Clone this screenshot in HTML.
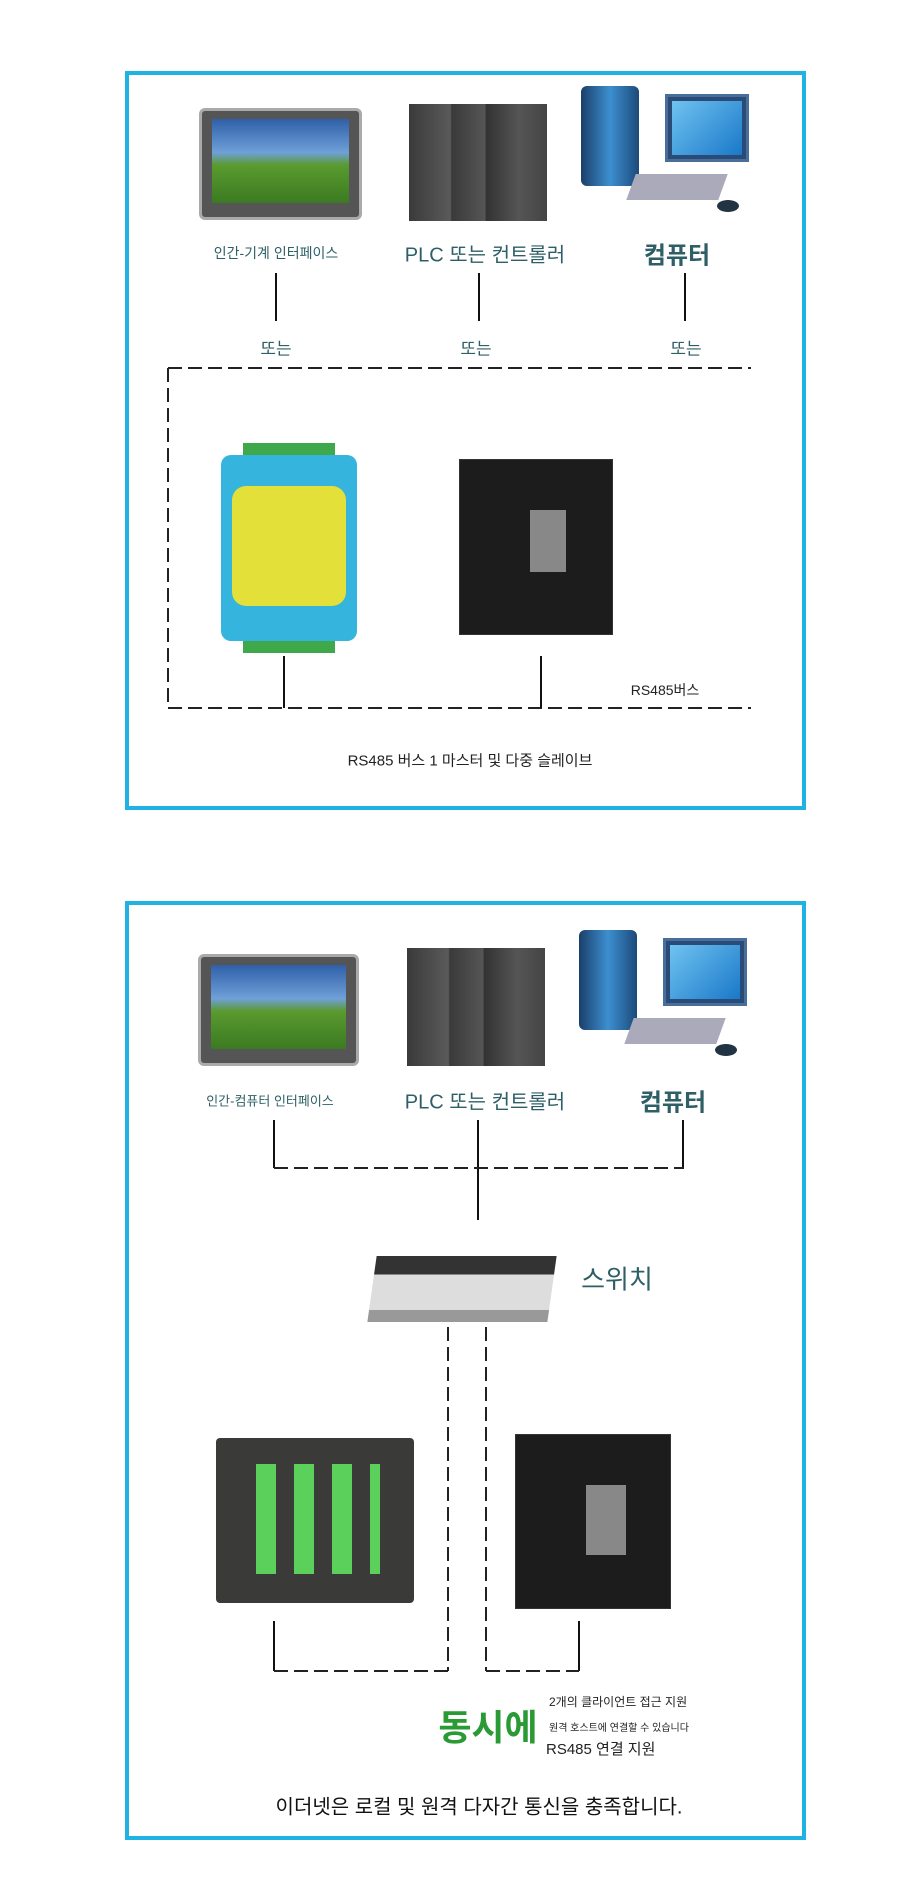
<!DOCTYPE html>
<html><head><meta charset="utf-8"><style>
*{margin:0;padding:0;box-sizing:border-box}
body{width:920px;height:1887px;background:#fff;position:relative;font-family:"Liberation Sans","Noto Sans CJK KR",sans-serif;overflow:hidden}
.a{position:absolute}
.box{position:absolute;border:4px solid #1fb2e3}
.t{position:absolute;white-space:nowrap;transform:translate(-50%,-50%);color:#2e5f66}
.vl{position:absolute;width:2px;background:#111}
.hd{position:absolute;height:2px;background:repeating-linear-gradient(90deg,#222 0 14px,transparent 14px 20px)}
.vd{position:absolute;width:2px;background:repeating-linear-gradient(180deg,#222 0 14px,transparent 14px 20px)}
.hmi{position:absolute;background:#555;border-radius:6px;border:3px solid #aaa}
.hmi .s{position:absolute;left:10px;right:10px;top:8px;bottom:14px;background:linear-gradient(#2f5fa8 0,#6fa0d8 40%,#5a9a2e 55%,#3c7a22 100%)}
.plc{position:absolute;background:linear-gradient(90deg,#3a3a3a,#5a5a5a 30%,#3a3a3a 31%,#555 55%,#333 56%,#555 80%,#444)}
.pc{position:absolute}
.blk{position:absolute;background:#1c1c1c;border:1px solid #333}
</style></head><body>

<div class="box" style="left:125px;top:71px;width:681px;height:739px"></div>
<div class="box" style="left:125px;top:901px;width:681px;height:939px"></div>

<!-- box1 devices -->
<div class="hmi" style="left:199px;top:108px;width:163px;height:112px"><div class="s"></div></div>
<div class="plc" style="left:409px;top:104px;width:138px;height:117px"></div>
<div class="pc" style="left:581px;top:78px;width:171px;height:144px">
 <div class="a" style="left:0;top:8px;width:58px;height:100px;background:linear-gradient(90deg,#1a3f6a,#3d8fd0,#1c4a7a);border-radius:6px"></div>
 <div class="a" style="left:84px;top:16px;width:84px;height:68px;background:#2a4a78;border:3px solid #4a6e9a"><div class="a" style="left:4px;top:4px;right:4px;bottom:4px;background:linear-gradient(135deg,#6fc3f0,#1a78c8)"></div></div>
 <div class="a" style="left:50px;top:96px;width:92px;height:26px;background:#aab;transform:skewX(-20deg)"></div>
 <div class="a" style="left:136px;top:122px;width:22px;height:12px;background:#234;border-radius:50%"></div>
</div>
<div class="t" style="left:276px;top:253px;font-size:14px">인간-기계 인터페이스</div>
<div class="t" style="left:485px;top:253px;font-size:20px">PLC 또는 컨트롤러</div>
<div class="t" style="left:677px;top:253px;font-size:24px;font-weight:bold">컴퓨터</div>
<div class="vl" style="left:275px;top:273px;height:48px"></div>
<div class="vl" style="left:478px;top:273px;height:48px"></div>
<div class="vl" style="left:684px;top:273px;height:48px"></div>
<div class="t" style="left:276px;top:347px;font-size:17px">또는</div>
<div class="t" style="left:476px;top:347px;font-size:17px">또는</div>
<div class="t" style="left:686px;top:347px;font-size:17px">또는</div>
<div class="hd" style="left:168px;top:367px;width:583px"></div>
<div class="vd" style="left:167px;top:368px;height:340px"></div>
<div class="hd" style="left:168px;top:707px;width:583px"></div>
<!-- yellow module -->
<div class="a" style="left:243px;top:443px;width:92px;height:12px;background:#3fa84a"></div>
<div class="a" style="left:221px;top:455px;width:136px;height:186px;background:#35b4de;border-radius:10px"></div>
<div class="a" style="left:232px;top:486px;width:114px;height:120px;background:#e4e03a;border-radius:14px"></div>
<div class="a" style="left:243px;top:641px;width:92px;height:12px;background:#3fa84a"></div>
<!-- black device -->
<div class="blk" style="left:459px;top:459px;width:154px;height:176px"><div class="a" style="left:70px;top:50px;width:36px;height:62px;background:#888"></div></div>
<div class="vl" style="left:283px;top:656px;height:52px"></div>
<div class="vl" style="left:540px;top:656px;height:52px"></div>
<div class="t" style="left:665px;top:690px;font-size:14px;color:#222">RS485버스</div>
<div class="t" style="left:470px;top:760px;font-size:15px;color:#222">RS485 버스 1 마스터 및 다중 슬레이브</div>

<!-- box2 devices -->
<div class="hmi" style="left:198px;top:954px;width:161px;height:112px"><div class="s"></div></div>
<div class="plc" style="left:407px;top:948px;width:138px;height:118px"></div>
<div class="pc" style="left:579px;top:922px;width:171px;height:144px">
 <div class="a" style="left:0;top:8px;width:58px;height:100px;background:linear-gradient(90deg,#1a3f6a,#3d8fd0,#1c4a7a);border-radius:6px"></div>
 <div class="a" style="left:84px;top:16px;width:84px;height:68px;background:#2a4a78;border:3px solid #4a6e9a"><div class="a" style="left:4px;top:4px;right:4px;bottom:4px;background:linear-gradient(135deg,#6fc3f0,#1a78c8)"></div></div>
 <div class="a" style="left:50px;top:96px;width:92px;height:26px;background:#aab;transform:skewX(-20deg)"></div>
 <div class="a" style="left:136px;top:122px;width:22px;height:12px;background:#234;border-radius:50%"></div>
</div>
<div class="t" style="left:270px;top:1100px;font-size:13px">인간-컴퓨터 인터페이스</div>
<div class="t" style="left:485px;top:1100px;font-size:20px">PLC 또는 컨트롤러</div>
<div class="t" style="left:673px;top:1100px;font-size:24px;font-weight:bold">컴퓨터</div>
<div class="vl" style="left:273px;top:1120px;height:48px"></div>
<div class="vl" style="left:477px;top:1120px;height:100px"></div>
<div class="vl" style="left:682px;top:1120px;height:48px"></div>
<div class="hd" style="left:274px;top:1167px;width:410px"></div>
<!-- switch -->
<div class="a" style="left:372px;top:1256px;width:180px;height:66px;background:linear-gradient(#333 0 28%,#ddd 28% 82%,#999 82%);transform:skewX(-8deg)"></div>
<div class="t" style="left:617px;top:1278px;font-size:26px">스위치</div>
<div class="vd" style="left:447px;top:1327px;height:344px"></div>
<div class="vd" style="left:485px;top:1327px;height:344px"></div>
<!-- IO module -->
<div class="a" style="left:216px;top:1438px;width:198px;height:165px;background:#3a3a38;border-radius:4px"></div>
<div class="a" style="left:256px;top:1464px;width:124px;height:110px;background:repeating-linear-gradient(90deg,#5bd05a 0 20px,#3a3a38 20px 38px)"></div>
<div class="blk" style="left:515px;top:1434px;width:156px;height:175px"><div class="a" style="left:70px;top:50px;width:40px;height:70px;background:#888"></div></div>
<div class="vl" style="left:273px;top:1621px;height:50px"></div>
<div class="vl" style="left:578px;top:1621px;height:50px"></div>
<div class="hd" style="left:274px;top:1670px;width:174px"></div>
<div class="hd" style="left:486px;top:1670px;width:93px"></div>
<div class="t" style="left:488px;top:1725px;font-size:36px;font-weight:bold;color:#2a9a35">동시에</div>
<div class="a" style="left:549px;top:1693px;font-size:12px;color:#222;white-space:nowrap">2개의 클라이언트 접근 지원</div>
<div class="a" style="left:549px;top:1719px;font-size:10px;color:#222;white-space:nowrap">원격 호스트에 연결할 수 있습니다</div>
<div class="a" style="left:546px;top:1738px;font-size:15px;color:#222;white-space:nowrap">RS485 연결 지원</div>
<div class="t" style="left:479px;top:1805px;font-size:20px;color:#111">이더넷은 로컬 및 원격 다자간 통신을 충족합니다.</div>
</body></html>
